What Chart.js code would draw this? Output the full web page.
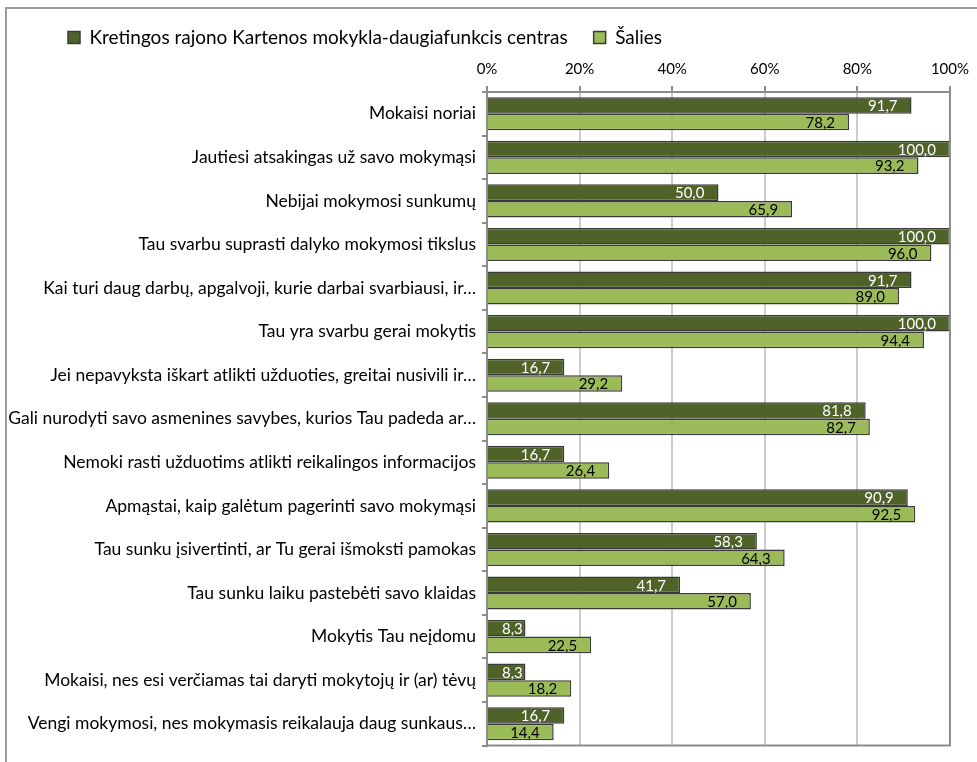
<!DOCTYPE html>
<html>
<head>
<meta charset="utf-8">
<script src="https://cdn.jsdelivr.net/npm/chart.js@4"></script>
<style>
  body { margin: 0; background: #fff; }
  #frame {
    position: absolute; left: 5px; top: 7px; width: 990px; height: 780px;
    border-left: 2px solid #9a9a9a; border-top: 2px solid #9a9a9a;
  }
  #wrap { position: absolute; left: 0; top: 0; width: 977px; height: 762px; }
</style>
</head>
<body>
<div id="frame"></div>
<div id="wrap"><canvas id="chart" width="977" height="762"></canvas></div>
<script>
// Chart data
const categories = [
    'Mokaisi noriai',
    'Jautiesi atsakingas už savo mokymąsi',
    'Nebijai mokymosi sunkumų',
    'Tau svarbu suprasti dalyko mokymosi tikslus',
    'Kai turi daug darbų, apgalvoji, kurie darbai svarbiausi, ir…',
    'Tau yra svarbu gerai mokytis',
    'Jei nepavyksta iškart atlikti užduoties, greitai nusivili ir…',
    'Gali nurodyti savo asmenines savybes, kurios Tau padeda ar…',
    'Nemoki rasti užduotims atlikti reikalingos informacijos',
    'Apmąstai, kaip galėtum pagerinti savo mokymąsi',
    'Tau sunku įsivertinti, ar Tu gerai išmoksti pamokas',
    'Tau sunku laiku pastebėti savo klaidas',
    'Mokytis Tau neįdomu',
    'Mokaisi, nes esi verčiamas tai daryti mokytojų ir (ar) tėvų',
    'Vengi mokymosi, nes mokymasis reikalauja daug sunkaus…'
];
const schoolValues = [91.7, 100.0, 50.0, 100.0, 91.7, 100.0, 16.7, 81.8, 16.7, 90.9, 58.3, 41.7, 8.3, 8.3, 16.7];
const countryValues = [78.2, 93.2, 65.9, 96.0, 89.0, 94.4, 29.2, 82.7, 26.4, 92.5, 64.3, 57.0, 22.5, 18.2, 14.4];
const seriesNames = ['Kretingos rajono Kartenos mokykla-daugiafunkcis centras', 'Šalies'];
const xTicks = [0, 20, 40, 60, 80, 100];

const FONT = 'Lato';
const AXIS_GRAY = '#8c8c8c';

// Value labels at the inner end of each bar (pushed right when the bar is too short)
const valueLabels = {
    id: 'valueLabels',
    afterDatasetsDraw(chart) {
        const ctx = chart.ctx;
        ctx.save();
        ctx.font = '15px ' + FONT;
        ctx.textAlign = 'right';
        ctx.textBaseline = 'middle';
        chart.data.datasets.forEach((ds, i) => {
            const meta = chart.getDatasetMeta(i);
            ctx.fillStyle = i === 0 ? '#ffffff' : '#000000';
            meta.data.forEach((bar, j) => {
                const txt = ds.data[j].toFixed(1).replace('.', ',');
                const w = ctx.measureText(txt).width;
                const x = Math.max(bar.x - 14, bar.base + 14 + w);
                ctx.fillText(txt, x, bar.y + 1);
            });
        });
        ctx.restore();
    }
};

// Gray frame round the plot area, legend shifted to the right
const plotFrame = {
    id: 'plotFrame',
    afterLayout(chart) {
        chart.legend.left += 42;
        chart.legend.right += 42;
    },
    afterDraw(chart) {
        const a = chart.chartArea;
        const ctx = chart.ctx;
        ctx.save();
        ctx.strokeStyle = AXIS_GRAY;
        ctx.lineWidth = 2;
        ctx.strokeRect(a.left, a.top, a.right - a.left, a.bottom - a.top);
        ctx.restore();
    }
};

new Chart(document.getElementById('chart'), {
    type: 'bar',
    data: {
        labels: categories,
        datasets: [{
            label: seriesNames[0],
            data: schoolValues,
            backgroundColor: '#4f6228',
            borderColor: '#3a3a3a',
            borderWidth: 1.5
        }, {
            label: seriesNames[1],
            data: countryValues,
            backgroundColor: '#9bbb59',
            borderColor: '#3a3a3a',
            borderWidth: 1.5
        }]
    },
    options: {
        indexAxis: 'y',
        responsive: false,
        animation: false,
        devicePixelRatio: 1,
        categoryPercentage: 0.76,
        barPercentage: 1,
        layout: { padding: { top: 2, right: 27, bottom: 13, left: 0 } },
        plugins: {
            legend: {
                position: 'top',
                align: 'start',
                labels: {
                    font: { family: FONT, size: 19 },
                    color: '#000',
                    boxWidth: 12,
                    boxHeight: 12,
                    padding: 26
                }
            },
            tooltip: { enabled: false }
        },
        scales: {
            x: {
                position: 'top',
                min: 0,
                max: 100,
                afterBuildTicks(scale) {
                    scale.ticks = xTicks.map(v => ({ value: v }));
                },
                ticks: {
                    callback: v => v + '%',
                    font: { family: FONT, size: 15 },
                    color: '#000',
                    padding: 8
                },
                grid: {
                    color: '#cccccc',
                    lineWidth: 2,
                    tickColor: AXIS_GRAY,
                    tickLength: 6
                },
                border: { color: AXIS_GRAY, width: 2 },
                afterFit(scale) { scale.height = 35; }
            },
            y: {
                ticks: {
                    font: { family: FONT, size: 17.5 },
                    color: '#000',
                    padding: 6,
                    autoSkip: false
                },
                grid: {
                    offset: true,
                    drawOnChartArea: false,
                    tickColor: AXIS_GRAY,
                    tickLength: 5,
                    lineWidth: 2
                },
                border: { color: AXIS_GRAY, width: 2 },
                afterFit(scale) { scale.width = 487; }
            }
        }
    },
    plugins: [valueLabels, plotFrame]
});
</script>
</body>
</html>
